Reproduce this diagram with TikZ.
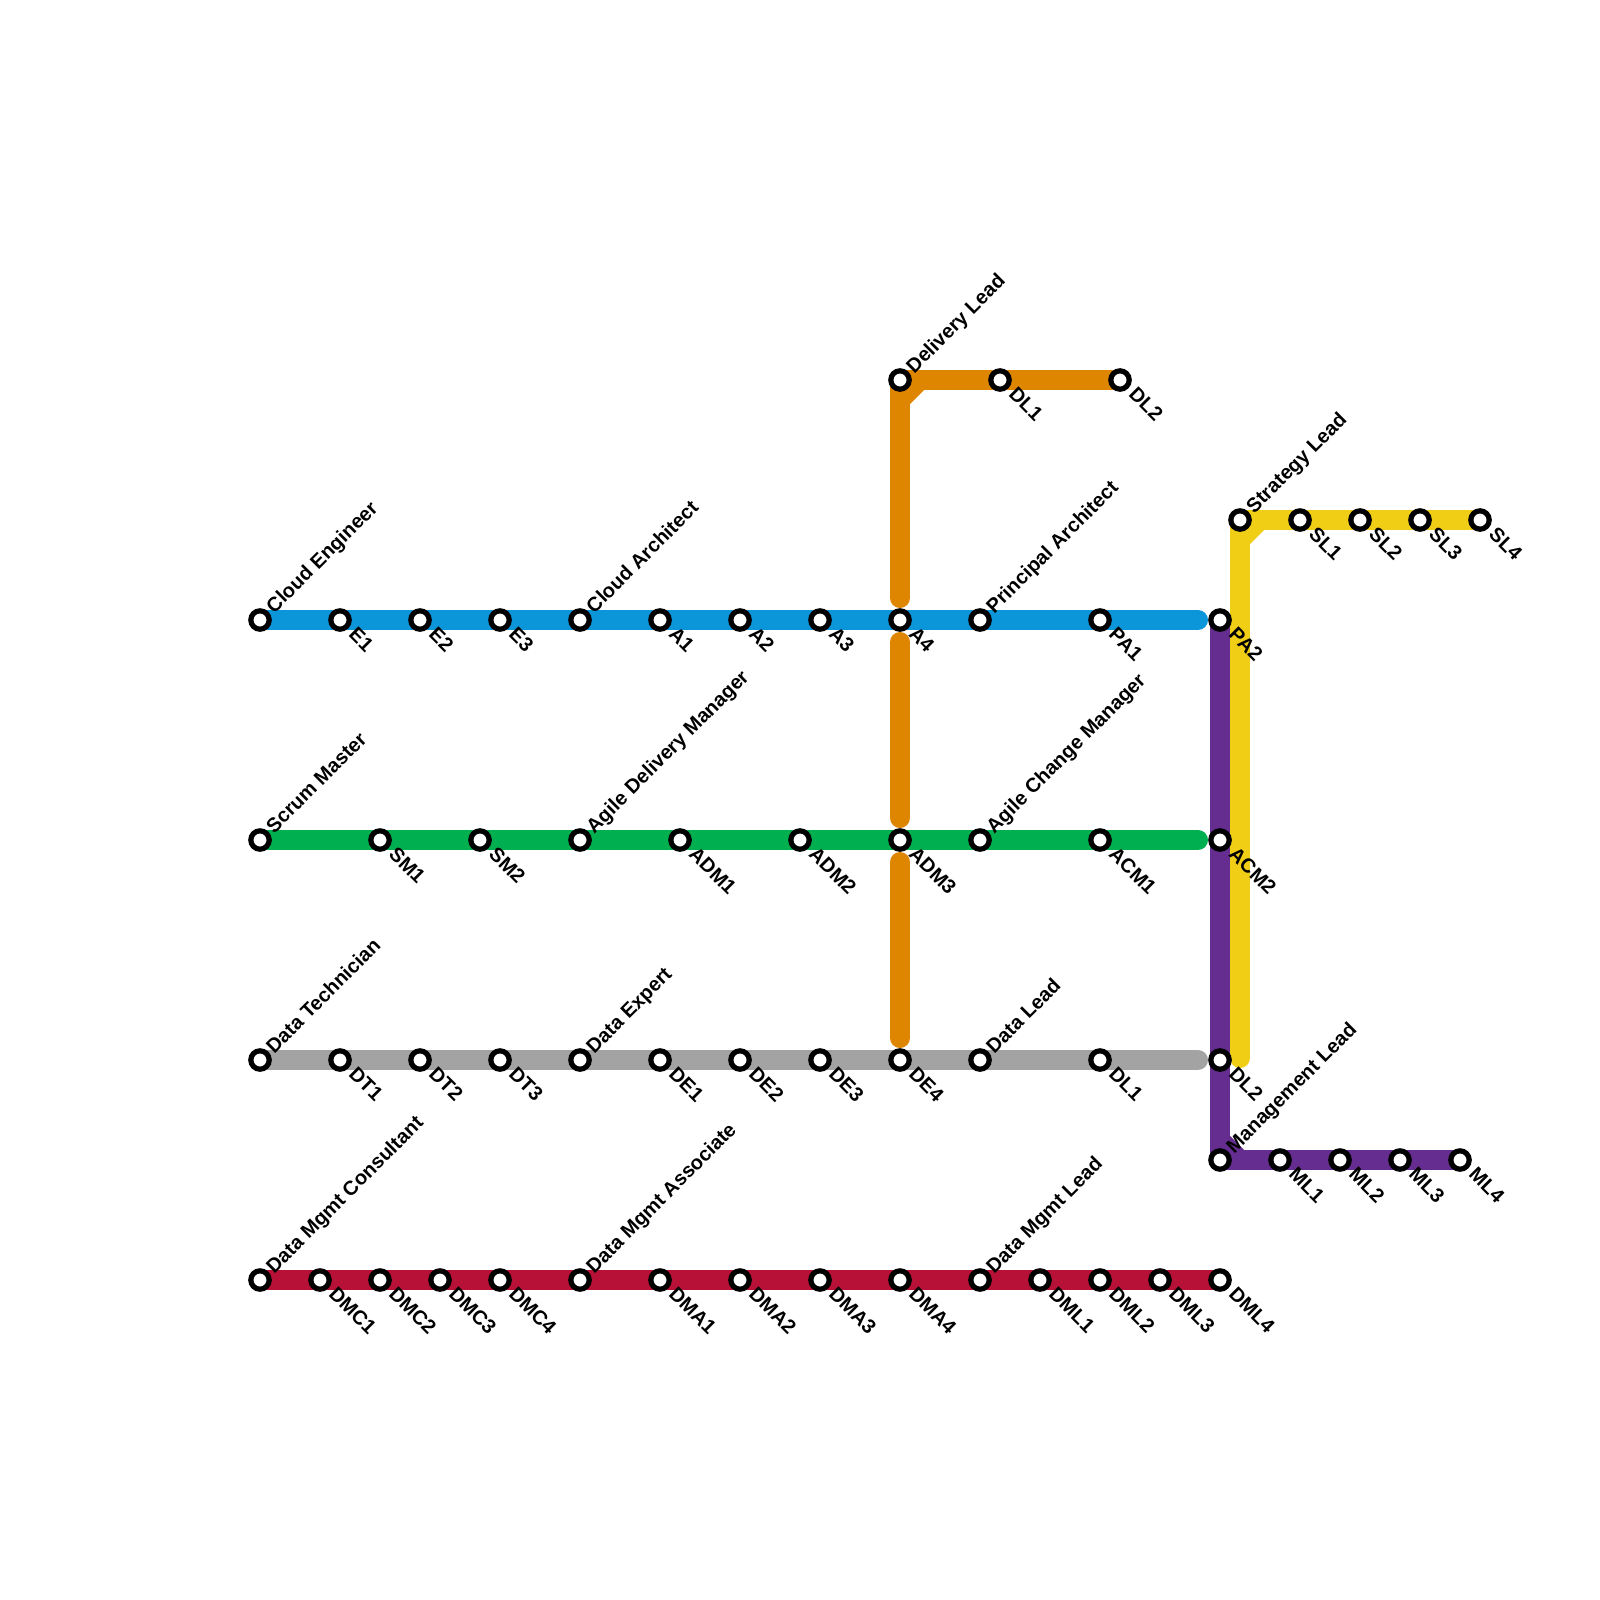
\documentclass[tikz,border=0pt]{standalone}
\usepackage{fontspec}
\setmainfont{Liberation Sans}
\usetikzlibrary{backgrounds}
\definecolor{cloudblue}{HTML}{0A96D8}
\definecolor{agilegreen}{HTML}{00B050}
\definecolor{datagrey}{HTML}{A3A3A3}
\definecolor{mgmtred}{HTML}{B81137}
\definecolor{leadorange}{HTML}{DF8600}
\definecolor{stratyellow}{HTML}{F0CE15}
\definecolor{mgmtpurple}{HTML}{662D91}

\begin{document}
\begin{tikzpicture}[x=1pt,y=-1pt,
  font=\fontsize{20}{24}\selectfont\bfseries,
  metroline/.style={line width=20pt,line cap=round,line join=round},
  stopmark/.style={circle,draw=black,fill=white,line width=5.2pt,
                   minimum size=18.4pt,inner sep=0pt,outer sep=0pt},
  uptag/.style={rotate=45,anchor=base west,inner sep=0pt,xshift=14pt,yshift=-6pt},
  downtag/.style={rotate=-45,anchor=base west,inner sep=0pt,xshift=16.5pt,yshift=-5.5pt}]
 \useasboundingbox (0,0) rectangle (1600,1600);
 % stations with a role name above the line
 \foreach \stopname/\xx/\yy/\stoptext in {
    CE/260/620/Cloud Engineer, CA/580/620/Cloud Architect,
    PrA/980/620/Principal Architect,
    SMa/260/840/Scrum Master, ADMa/580/840/Agile Delivery Manager,
    ACMa/980/840/Agile Change Manager,
    DTa/260/1060/Data Technician, DEa/580/1060/Data Expert,
    DLa/980/1060/Data Lead,
    DMC/260/1280/Data Mgmt Consultant, DMA/580/1280/Data Mgmt Associate,
    DML/980/1280/Data Mgmt Lead,
    DelL/900/380/Delivery Lead, StrL/1240/520/Strategy Lead,
    MgmL/1220/1160/Management Lead}{
   \node[stopmark] (\stopname) at (\xx,\yy) {};
   \node[uptag] (\stopname-tag) at (\stopname) {\stoptext};
 }
 % stations with a grade below the line
 \foreach \stopname/\xx/\yy/\stoptext in {
    E1/340/620/E1, E2/420/620/E2, E3/500/620/E3,
    A1/660/620/A1, A2/740/620/A2, A3/820/620/A3, A4/900/620/A4,
    PA1/1100/620/PA1, PA2/1220/620/PA2,
    SM1/380/840/SM1, SM2/480/840/SM2,
    ADM1/680/840/ADM1, ADM2/800/840/ADM2, ADM3/900/840/ADM3,
    ACM1/1100/840/ACM1, ACM2/1220/840/ACM2,
    DT1/340/1060/DT1, DT2/420/1060/DT2, DT3/500/1060/DT3,
    DE1/660/1060/DE1, DE2/740/1060/DE2, DE3/820/1060/DE3, DE4/900/1060/DE4,
    DaL1/1100/1060/DL1, DaL2/1220/1060/DL2,
    DMC1/320/1280/DMC1, DMC2/380/1280/DMC2, DMC3/440/1280/DMC3, DMC4/500/1280/DMC4,
    DMA1/660/1280/DMA1, DMA2/740/1280/DMA2, DMA3/820/1280/DMA3, DMA4/900/1280/DMA4,
    DML1/1040/1280/DML1, DML2/1100/1280/DML2, DML3/1160/1280/DML3, DML4/1220/1280/DML4,
    DeL1/1000/380/DL1, DeL2/1120/380/DL2,
    SL1/1300/520/SL1, SL2/1360/520/SL2, SL3/1420/520/SL3, SL4/1480/520/SL4,
    ML1/1280/1160/ML1, ML2/1340/1160/ML2, ML3/1400/1160/ML3, ML4/1460/1160/ML4}{
   \node[stopmark] (\stopname) at (\xx,\yy) {};
   \node[downtag] (\stopname-tag) at (\stopname) {\stoptext};
 }
 % free ends and elbows
 \coordinate (blueend) at (1198,620);
 \coordinate (greenend) at (1198,840);
 \coordinate (greyend) at (1198,1060);
 \coordinate (yellowend) at (1240,1058);
 \coordinate (orangeA) at (900,598);
 \coordinate (orangeB) at (900,642);
 \coordinate (orangeC) at (900,818);
 \coordinate (orangeD) at (900,862);
 \coordinate (orangeE) at (900,1038);
 \coordinate (delbendA) at (900,400);
 \coordinate (delbendB) at (920,380);
 \coordinate (strbendA) at (1240,540);
 \coordinate (strbendB) at (1260,520);
 \coordinate (mgmbendA) at (1220,1140);
 \coordinate (mgmbendB) at (1240,1160);
 \begin{scope}[on background layer]
  \draw[metroline,stratyellow] (SL4.center)--(StrL.center)--(yellowend);
  \draw[metroline,stratyellow] (strbendA)--(strbendB);
  \draw[metroline,mgmtpurple] (PA2.center)--(MgmL.center)--(ML4.center);
  \draw[metroline,mgmtpurple] (mgmbendA)--(mgmbendB);
  \draw[metroline,leadorange] (DeL2.center)--(DelL.center)--(orangeA);
  \draw[metroline,leadorange] (delbendA)--(delbendB);
  \draw[metroline,leadorange] (orangeB)--(orangeC);
  \draw[metroline,leadorange] (orangeD)--(orangeE);
  \draw[metroline,cloudblue] (CE.center)--(blueend);
  \draw[metroline,agilegreen] (SMa.center)--(greenend);
  \draw[metroline,datagrey] (DTa.center)--(greyend);
  \draw[metroline,mgmtred] (DMC.center)--(DML4.center);
 \end{scope}
\end{tikzpicture}
\end{document}
